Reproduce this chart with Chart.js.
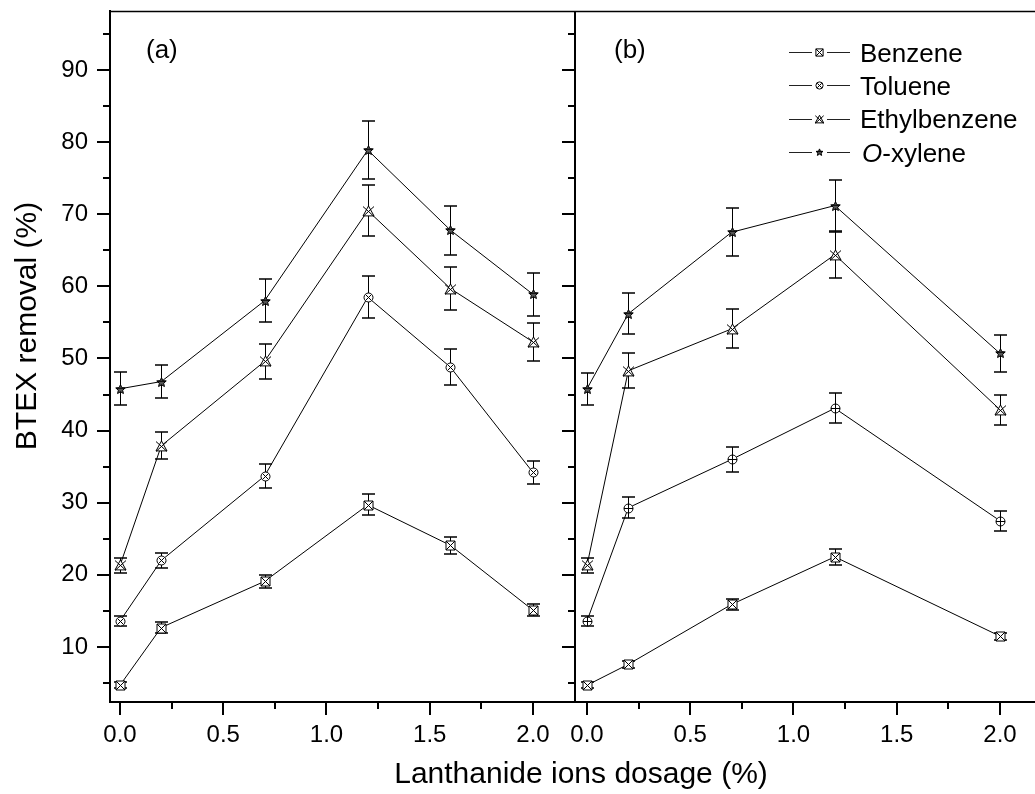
<!DOCTYPE html>
<html>
<head>
<meta charset="utf-8">
<script src="https://cdn.jsdelivr.net/npm/chart.js@4"></script>
<style>
  html, body { margin: 0; padding: 0; background: #fff; }
  #wrap { width: 1035px; height: 794px; }
</style>
</head>
<body>
<div id="wrap"><canvas id="myChart" width="1035" height="794"></canvas></div>
<script>
// dosage values (%) for the two panels
const dosageA = [0, 0.2, 0.7, 1.2, 1.6, 2.0];
const dosageB = [0, 0.2, 0.7, 1.2, 2.0];

// panel (a)
const benzeneA = [4.7, 12.7, 19.1, 29.7, 24.1, 15.1];
const benzeneErrA = [0.4, 0.7, 0.95, 1.45, 1.2, 0.8];
const tolueneA = [13.6, 22.0, 33.7, 58.5, 48.8, 34.2];
const tolueneErrA = [0.65, 1.1, 1.7, 2.9, 2.45, 1.65];
const ethylA = [21.3, 37.9, 49.6, 70.5, 59.7, 52.3];
const ethylErrA = [1.05, 1.9, 2.45, 3.55, 3.0, 2.6];
const xyleneA = [45.8, 46.8, 58.0, 78.9, 67.8, 58.9];
const xyleneErrA = [2.3, 2.3, 3.0, 4.0, 3.4, 3.0];

// panel (b)
const benzeneB = [4.7, 7.6, 15.9, 22.5, 11.5];
const benzeneErrB = [0.4, 0.45, 0.75, 1.1, 0.5];
const tolueneB = [13.6, 29.3, 36.0, 43.1, 27.5];
const tolueneErrB = [0.65, 1.45, 1.75, 2.1, 1.35];
const ethylB = [21.3, 48.3, 54.1, 64.4, 42.9];
const ethylErrB = [1.05, 2.4, 2.7, 3.3, 2.1];
const xyleneB = [45.8, 56.2, 67.5, 71.2, 50.7];
const xyleneErrB = [2.25, 2.85, 3.3, 3.6, 2.55];

const seriesNames = ['Benzene', 'Toluene', 'Ethylbenzene', 'O-xylene'];
const xTicks = [0, 0.5, 1.0, 1.5, 2.0];
const xMinorTicks = [0.25, 0.75, 1.25, 1.75];
const yTicks = [10, 20, 30, 40, 50, 60, 70, 80, 90];
const yMinorTicks = [5, 15, 25, 35, 45, 55, 65, 75, 85, 95];

const FONT = "'Liberation Sans', Arial, sans-serif";
Chart.defaults.font.family = FONT;
Chart.defaults.color = '#000';

// little hand made symbols like the ones in the figure
function drawMarker(ctx, kind, cx, cy, r) {
    ctx.save();
    ctx.lineWidth = 1;
    ctx.strokeStyle = '#000';
    ctx.fillStyle = '#fff';
    ctx.beginPath();
    if (kind === 'boxX') {
        ctx.rect(cx - r, cy - r, 2 * r, 2 * r);
        ctx.fill(); ctx.stroke();
        ctx.beginPath();
        ctx.moveTo(cx - r, cy - r); ctx.lineTo(cx + r, cy + r);
        ctx.moveTo(cx + r, cy - r); ctx.lineTo(cx - r, cy + r);
        ctx.stroke();
    } else if (kind === 'circX' || kind === 'circPlus') {
        ctx.arc(cx, cy, r, 0, Math.PI * 2);
        ctx.fill(); ctx.stroke();
        ctx.beginPath();
        if (kind === 'circX') {
            const d = r * 0.62;
            ctx.moveTo(cx - d, cy - d); ctx.lineTo(cx + d, cy + d);
            ctx.moveTo(cx + d, cy - d); ctx.lineTo(cx - d, cy + d);
        } else {
            ctx.moveTo(cx - r, cy); ctx.lineTo(cx + r, cy);
            ctx.moveTo(cx, cy - r); ctx.lineTo(cx, cy + r);
        }
        ctx.stroke();
    } else if (kind === 'triX') {
        ctx.moveTo(cx, cy - r);
        ctx.lineTo(cx + r, cy + r * 0.8);
        ctx.lineTo(cx - r, cy + r * 0.8);
        ctx.closePath();
        ctx.fill(); ctx.stroke();
        ctx.beginPath();
        ctx.moveTo(cx - r, cy - r * 0.9); ctx.lineTo(cx + r, cy + r * 0.9);
        ctx.moveTo(cx + r, cy - r * 0.9); ctx.lineTo(cx - r, cy + r * 0.9);
        ctx.stroke();
    } else if (kind === 'star') {
        for (let k = 0; k < 10; k++) {
            const rr = k % 2 ? r * 0.45 : r;
            const a = -Math.PI / 2 + k * Math.PI / 5;
            const px = cx + rr * Math.cos(a), py = cy + rr * Math.sin(a);
            if (k === 0) ctx.moveTo(px, py); else ctx.lineTo(px, py);
        }
        ctx.closePath();
        ctx.fillStyle = '#555';
        ctx.fill(); ctx.stroke();
        ctx.beginPath();
        ctx.moveTo(cx - r * 0.9, cy - r * 0.25); ctx.lineTo(cx + r * 0.9, cy - r * 0.25);
        ctx.stroke();
    }
    ctx.restore();
}

const markerSize = kind => kind === 'triX' ? 5.5 : (kind === 'star' ? 5 : 4.5);

const pts = (xs, ys) => xs.map((x, i) => ({x: x, y: ys[i]}));

function series(label, xs, ys, errs, kind, axis) {
    return {
        label: label,
        data: pts(xs, ys),
        errors: errs,
        marker: kind,
        xAxisID: axis,
        yAxisID: 'y',
        borderColor: '#000',
        borderWidth: 1,
        pointRadius: 0,
        tension: 0,
        fill: false
    };
}

const markersA = ['boxX', 'circX', 'triX', 'star'];
const markersB = ['boxX', 'circPlus', 'triX', 'star'];

// error bars under the lines, symbols on top (snapped to whole pixels)
const errorBars = {
    id: 'errorBars',
    beforeDatasetsDraw(chart) {
        const ctx = chart.ctx;
        const y = chart.scales.y;
        ctx.save();
        ctx.strokeStyle = '#000';
        chart.data.datasets.forEach((ds, di) => {
            const meta = chart.getDatasetMeta(di);
            ds.data.forEach((p, i) => {
                const px = Math.round(meta.data[i].x) + 0.5;
                const top = Math.round(y.getPixelForValue(p.y + ds.errors[i]));
                const bot = Math.round(y.getPixelForValue(p.y - ds.errors[i]));
                ctx.lineWidth = 1;
                ctx.beginPath();
                ctx.moveTo(px, top); ctx.lineTo(px, bot);
                ctx.stroke();
                ctx.lineWidth = 1.5;
                ctx.beginPath();
                ctx.moveTo(px - 6.5, top); ctx.lineTo(px + 6.5, top);
                ctx.moveTo(px - 6.5, bot); ctx.lineTo(px + 6.5, bot);
                ctx.stroke();
            });
        });
        ctx.restore();
    },
    afterDatasetsDraw(chart) {
        const ctx = chart.ctx;
        chart.data.datasets.forEach((ds, di) => {
            const meta = chart.getDatasetMeta(di);
            meta.data.forEach(pt => {
                drawMarker(ctx, ds.marker, Math.round(pt.x) + 0.5, Math.round(pt.y) + 0.5, markerSize(ds.marker));
            });
        });
    }
};

// frame, divider, tick marks, titles, legend
const decorations = {
    id: 'decorations',
    afterDraw(chart) {
        const ctx = chart.ctx;
        const area = chart.chartArea;
        const y = chart.scales.y;
        const xa = chart.scales.xa, xb = chart.scales.xb;
        const xDiv = xb.left;
        ctx.save();
        ctx.strokeStyle = '#000';

        // top border
        ctx.lineWidth = 1.5;
        ctx.beginPath();
        ctx.moveTo(area.left, area.top + 0.5); ctx.lineTo(area.right, area.top + 0.5);
        ctx.stroke();
        // divider between the panels
        ctx.lineWidth = 2;
        ctx.beginPath();
        ctx.moveTo(xDiv, area.top); ctx.lineTo(xDiv, area.bottom + 1);
        ctx.stroke();

        // y ticks on both vertical axes, pointing left
        const yTick = (v, len) => {
            const py = Math.round(y.getPixelForValue(v));
            [area.left, xDiv].forEach(x0 => {
                ctx.beginPath();
                ctx.moveTo(x0 - len, py); ctx.lineTo(x0, py);
                ctx.stroke();
            });
        };
        ctx.lineWidth = 2;
        yTicks.forEach(v => yTick(v, 13));
        yMinorTicks.forEach(v => yTick(v, 7));

        // x ticks, pointing down
        const xTick = (sc, v, len) => {
            const px = Math.round(sc.getPixelForValue(v));
            ctx.beginPath();
            ctx.moveTo(px, area.bottom); ctx.lineTo(px, area.bottom + len);
            ctx.stroke();
        };
        [xa, xb].forEach(sc => {
            xTicks.forEach(v => xTick(sc, v, 13));
            xMinorTicks.forEach(v => xTick(sc, v, 7));
        });

        // axis titles
        ctx.fillStyle = '#000';
        ctx.font = '30px ' + FONT;
        ctx.textAlign = 'center';
        ctx.textBaseline = 'alphabetic';
        ctx.fillText('Lanthanide ions dosage (%)', 581, 783);
        ctx.save();
        ctx.translate(36, 326);
        ctx.rotate(-Math.PI / 2);
        ctx.fillText('BTEX removal (%)', 0, 0);
        ctx.restore();

        // panel labels
        ctx.font = '26px ' + FONT;
        ctx.textAlign = 'left';
        ctx.fillText('(a)', 146, 58);
        ctx.fillText('(b)', 614, 58);

        // legend
        ctx.font = '26px ' + FONT;
        seriesNames.forEach((name, i) => {
            const base = 61.5 + i * 33.4;
            const ly = Math.round(base - 9.5) + 0.5;
            ctx.strokeStyle = '#222';
            ctx.lineWidth = 1;
            ctx.beginPath();
            ctx.moveTo(789, ly); ctx.lineTo(812, ly);
            ctx.moveTo(827, ly); ctx.lineTo(850, ly);
            ctx.stroke();
            drawMarker(ctx, markersA[i], 819.5, ly, markersA[i] === 'triX' ? 4.2 : 3.6);
            if (name.startsWith('O-')) {
                ctx.font = 'italic 26px ' + FONT;
                ctx.fillText('O', 862, base);
                const w = ctx.measureText('O').width;
                ctx.font = '26px ' + FONT;
                ctx.fillText(name.slice(1), 862 + w, base);
            } else {
                ctx.fillText(name, 860, base);
            }
        });
        ctx.restore();
    }
};

const datasets = [];
[benzeneA, tolueneA, ethylA, xyleneA].forEach((ys, i) => {
    const errs = [benzeneErrA, tolueneErrA, ethylErrA, xyleneErrA][i];
    datasets.push(series(seriesNames[i] + ' (a)', dosageA, ys, errs, markersA[i], 'xa'));
});
[benzeneB, tolueneB, ethylB, xyleneB].forEach((ys, i) => {
    const errs = [benzeneErrB, tolueneErrB, ethylErrB, xyleneErrB][i];
    datasets.push(series(seriesNames[i] + ' (b)', dosageB, ys, errs, markersB[i], 'xb'));
});

function xAxis(min, max, weight) {
    return {
        type: 'linear',
        position: 'bottom',
        stack: 'dose',
        stackWeight: weight,
        min: min,
        max: max,
        grid: { display: false, drawTicks: false },
        border: { display: true, width: 2, color: '#000' },
        afterBuildTicks: s => { s.ticks = xTicks.map(v => ({value: v})); },
        afterFit: s => { s.height = 92; s.paddingLeft = 0; s.paddingRight = 0; },
        ticks: {
            padding: 19,
            maxRotation: 0,
            autoSkip: false,
            font: { size: 24 },
            color: '#000',
            callback: v => Number(v).toFixed(1)
        }
    };
}

var ctx = document.getElementById('myChart').getContext('2d');
var chart = new Chart(ctx, {
    type: 'line',
    data: { datasets: datasets },
    plugins: [errorBars, decorations],
    options: {
        responsive: false,
        animation: false,
        events: [],
        layout: { padding: { left: 0, top: 11, right: 0, bottom: 0 } },
        plugins: { legend: { display: false }, tooltip: { enabled: false } },
        scales: {
            xa: xAxis(-0.0484, 2.2034, 465),
            xb: xAxis(-0.0581, 2.1695, 460),
            y: {
                type: 'linear',
                position: 'left',
                min: 2.374,
                max: 98.18,
                grid: { display: false, drawTicks: false },
                border: { display: true, width: 2, color: '#000' },
                afterBuildTicks: s => { s.ticks = yTicks.map(v => ({value: v})); },
                afterFit: s => { s.width = 110; s.paddingTop = 0; s.paddingBottom = 0; },
                ticks: { padding: 22, font: { size: 24 }, color: '#000' }
            }
        }
    }
});
</script>
</body>
</html>
